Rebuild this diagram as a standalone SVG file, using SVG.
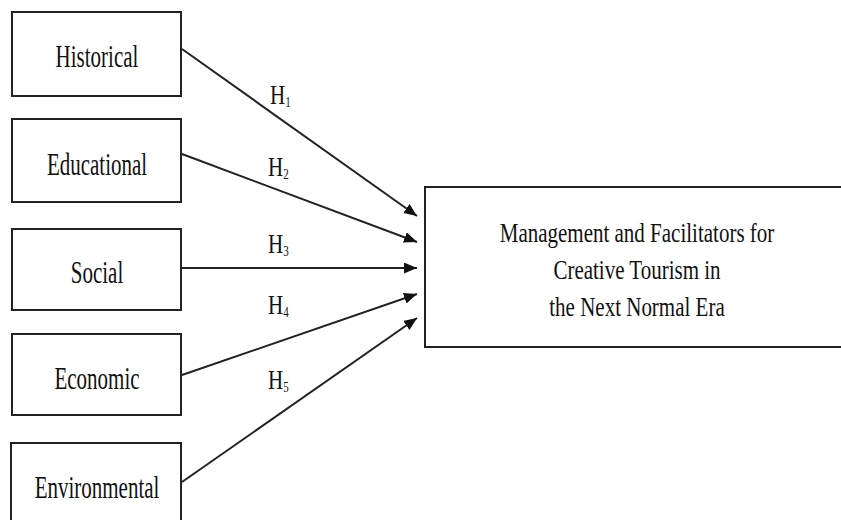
<svg xmlns="http://www.w3.org/2000/svg" width="841" height="520" viewBox="0 0 841 520">
<style>
.box{fill:#fff;stroke:#222;stroke-width:2}
.t{font-family:"Liberation Serif","Times New Roman",serif;font-size:21px;fill:#111;text-anchor:middle}
.h{font-family:"Liberation Serif","Times New Roman",serif;font-size:21px;fill:#111}
.sub{font-size:11px}
.c{stroke:#222;stroke-width:2;fill:none;marker-end:url(#ah)}
</style>
<defs>
<marker id="ah" markerUnits="userSpaceOnUse" markerWidth="14" markerHeight="12" refX="13" refY="5.5" orient="auto">
<path d="M0,0 L13,5.5 L0,11 z" fill="#111"/>
</marker>
</defs>
<rect width="841" height="520" fill="#fff"/>
<g id="historical">
<rect class="box" x="12" y="12" width="169" height="84"/>
<text class="t" transform="translate(97,67) scale(1,1.5)">Historical</text>
</g>
<g id="educational">
<rect class="box" x="12" y="119" width="169" height="83"/>
<text class="t" transform="translate(97,175) scale(1,1.5)">Educational</text>
</g>
<g id="social">
<rect class="box" x="12" y="229" width="169" height="81"/>
<text class="t" transform="translate(97,283) scale(1,1.5)">Social</text>
</g>
<g id="economic">
<rect class="box" x="12" y="334" width="169" height="81"/>
<text class="t" transform="translate(97,389) scale(1,1.5)">Economic</text>
</g>
<g id="environmental">
<rect class="box" x="11" y="443" width="170" height="90"/>
<text class="t" transform="translate(97,498) scale(1,1.5)">Environmental</text>
</g>
<g id="outcome">
<rect class="box" x="425" y="187" width="430" height="160"/>
<text class="t" transform="translate(637,242) scale(1,1.35)">Management and Facilitators for</text>
<text class="t" transform="translate(637,279) scale(1,1.35)">Creative Tourism in</text>
<text class="t" transform="translate(637,316) scale(1,1.35)">the Next Normal Era</text>
</g>
<g id="connectors">
<line class="c" x1="182" y1="49" x2="417" y2="216"/>
<line class="c" x1="182" y1="154" x2="417" y2="242"/>
<line class="c" x1="181" y1="268" x2="417" y2="268"/>
<line class="c" x1="182" y1="375" x2="417" y2="294"/>
<line class="c" x1="182" y1="482" x2="417" y2="318"/>
<text class="h" transform="translate(270,104) scale(1,1.3)">H<tspan class="sub" dy="2">1</tspan></text>
<text class="h" transform="translate(268,176) scale(1,1.3)">H<tspan class="sub" dy="2">2</tspan></text>
<text class="h" transform="translate(268,253) scale(1,1.3)">H<tspan class="sub" dy="2">3</tspan></text>
<text class="h" transform="translate(268,314) scale(1,1.3)">H<tspan class="sub" dy="2">4</tspan></text>
<text class="h" transform="translate(268,389) scale(1,1.3)">H<tspan class="sub" dy="2">5</tspan></text>
</g>
</svg>
